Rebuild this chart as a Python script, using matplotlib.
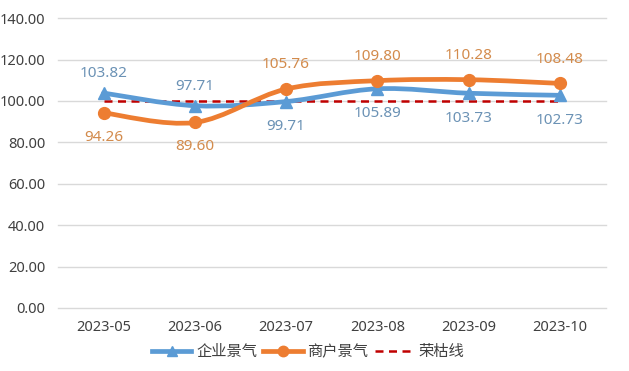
import matplotlib
matplotlib.use("Agg")
import matplotlib.pyplot as plt
from matplotlib.path import Path
from matplotlib.patches import PathPatch
from matplotlib.lines import Line2D
import numpy as np

plt.rcParams['font.family'] = ['Noto Sans', 'Noto Sans CJK SC', 'DejaVu Sans']

months = ["2023-05", "2023-06", "2023-07", "2023-08", "2023-09", "2023-10"]
enterprise = [103.82, 97.71, 99.71, 105.89, 103.73, 102.73]
merchant = [94.26, 89.60, 105.76, 109.80, 110.28, 108.48]
boom_line = [100, 100, 100, 100, 100, 100]
yticks = [0, 20, 40, 60, 80, 100, 120, 140]

# label placement: +1 above, -1 below
ent_pos = [1, 1, -1, -1, -1, -1]
mer_pos = [-1, -1, 1, 1, 1, 1]

BLUE = "#5B9BD5"
ORANGE = "#ED7D31"
RED = "#C00000"
BLUE_TXT = "#6B92B5"
ORANGE_TXT = "#D38B4C"

fig = plt.figure(figsize=(6.29, 3.71), dpi=100)
ax = fig.add_axes([0.092, 0.170, 0.871, 0.781])
x = np.arange(len(months))


def smooth_path(xs, ys):
    pts = list(zip(xs, ys))
    n = len(pts)
    verts = [pts[0]]
    codes = [Path.MOVETO]
    for i in range(n - 1):
        p0 = pts[i - 1] if i > 0 else pts[i]
        p1 = pts[i]
        p2 = pts[i + 1]
        p3 = pts[i + 2] if i + 2 < n else pts[i + 1]
        c1 = (p1[0] + (p2[0] - p0[0]) / 6, p1[1] + (p2[1] - p0[1]) / 6)
        c2 = (p2[0] - (p3[0] - p1[0]) / 6, p2[1] - (p3[1] - p1[1]) / 6)
        verts += [c1, c2, p2]
        codes += [Path.CURVE4] * 3
    return Path(verts, codes)


for yt in yticks:
    ax.axhline(yt, color="#D9D9D9", lw=1.0, zorder=0, clip_on=False)

ax.plot(x, boom_line, color=RED, lw=1.8, dashes=(3.2, 2.2), zorder=2)

ax.add_patch(PathPatch(smooth_path(x, enterprise), fill=False, ec=BLUE, lw=3.4,
                       capstyle='round', joinstyle='round', zorder=3))
ax.plot(x, enterprise, ls='none', marker='^', ms=8, color=BLUE, zorder=4)

ax.add_patch(PathPatch(smooth_path(x, merchant), fill=False, ec=ORANGE, lw=3.4,
                       capstyle='round', joinstyle='round', zorder=3))
ax.plot(x, merchant, ls='none', marker='o', ms=8.5, color=ORANGE, zorder=4)

for xi, v, p in zip(x, enterprise, ent_pos):
    off = 14 if p > 0 else 18
    ax.annotate(f"{v:.2f}", (xi, v), xytext=(0, off * p), textcoords='offset points',
                ha='center', va='center', fontsize=11, color=BLUE_TXT, zorder=5)
for xi, v, p in zip(x, merchant, mer_pos):
    ax.annotate(f"{v:.2f}", (xi, v), xytext=(0, 17.5 * p), textcoords='offset points',
                ha='center', va='center', fontsize=11, color=ORANGE_TXT, zorder=5)

ax.set_xlim(-0.5, len(months) - 0.5)
ax.set_ylim(0, 140)
ax.set_yticks(yticks)
ax.set_yticklabels([f"{t:.2f}" for t in yticks])
ax.set_xticks(x)
ax.set_xticklabels(months)
ax.tick_params(axis='both', length=0, labelsize=10.5, colors="#404040")
ax.tick_params(axis='y', pad=9)
ax.tick_params(axis='x', pad=9)
for s in ax.spines.values():
    s.set_visible(False)

handles = [
    Line2D([], [], color=BLUE, lw=3.4, marker='^', ms=7),
    Line2D([], [], color=ORANGE, lw=3.4, marker='o', ms=7.5),
    Line2D([], [], color=RED, lw=1.8, dashes=(3.2, 2.2)),
]
fig.legend(handles, ["企业景气", "商户景气", "荣枯线"], loc='center',
           bbox_to_anchor=(0.49, 0.05), ncol=3, frameon=False, fontsize=11,
           handlelength=2.6, handletextpad=0.3, columnspacing=0.4,
           labelcolor="#404040")

fig.savefig("out.png", dpi=100, facecolor="white")
